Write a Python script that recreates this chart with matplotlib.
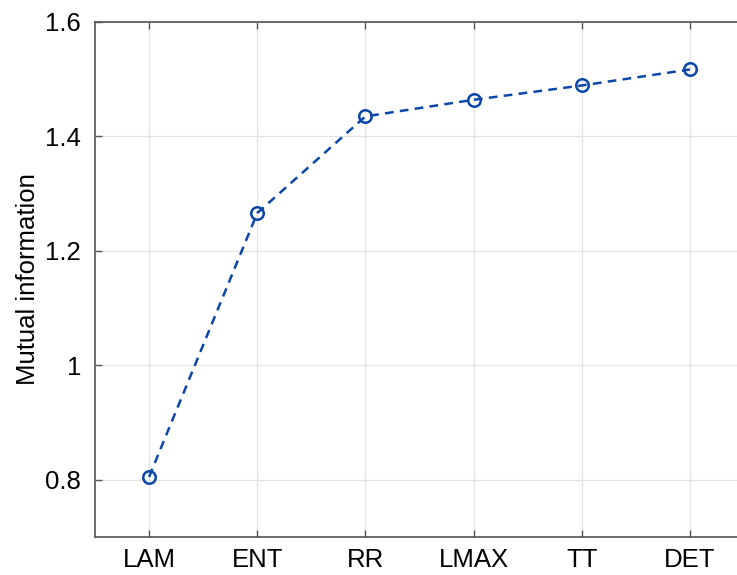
import matplotlib
import matplotlib.pyplot as plt

matplotlib.use("Agg")
plt.rcParams["font.family"] = ["Liberation Sans", "DejaVu Sans"]

categories = ["LAM", "ENT", "RR", "LMAX", "TT", "DET"]
mutual_info = [0.805, 1.266, 1.435, 1.464, 1.489, 1.517]
y_ticks = [0.8, 1.0, 1.2, 1.4, 1.6]
y_tick_labels = ["0.8", "1", "1.2", "1.4", "1.6"]

fig = plt.figure(figsize=(7.37, 5.75), dpi=100)
ax = fig.add_axes([0.1289, 0.0661, 0.8806, 0.8957])

x = range(1, len(categories) + 1)
ax.plot(x, mutual_info, linestyle="--", color="#0a47a8", linewidth=1.8,
        marker="o", markersize=9, markerfacecolor="none",
        markeredgewidth=1.8, dashes=(3.5, 2.5))

ax.set_xlim(0.5, 6.5)
ax.set_ylim(0.7, 1.6)
ax.set_xticks(list(x))
ax.set_xticklabels(categories)
ax.set_yticks(y_ticks)
ax.set_yticklabels(y_tick_labels)
ax.set_ylabel("Mutual information", fontsize=18.5, labelpad=4)

ax.grid(True, color="#e3e3e3", linewidth=0.9)
ax.set_axisbelow(True)
ax.tick_params(direction="in", length=5, width=1, color="#555555",
               labelsize=18.5, top=True, right=True)
ax.tick_params(axis="y", pad=10)
ax.tick_params(axis="x", pad=8)
for s in ax.spines.values():
    s.set_color("#555555")
    s.set_linewidth(1.2)

fig.savefig("out.png", dpi=100)
